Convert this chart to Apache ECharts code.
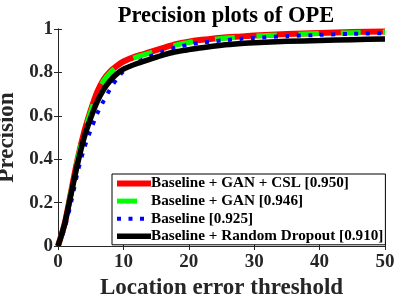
<!DOCTYPE html>
<html>
<head>
<meta charset="utf-8">
<script src="https://cdn.jsdelivr.net/npm/echarts@6/dist/echarts.min.js"></script>
<style>html,body{margin:0;padding:0;background:#fff;}#c{width:398px;height:301px;}</style>
</head>
<body>
<div id="c"></div>
<script>
var thresholds = [0,1,2,3,4,5,6,7,8,9,10,12,14,16,18,20,22,25,28,30,35,40,45,50];
var ganCsl   = [0,0.10,0.25,0.40,0.525,0.625,0.71,0.768,0.805,0.83,0.85,0.875,0.893,0.912,0.93,0.942,0.95,0.96,0.966,0.97,0.977,0.982,0.986,0.989];
var gan      = [0,0.10,0.25,0.40,0.52,0.62,0.705,0.763,0.80,0.826,0.846,0.871,0.889,0.908,0.926,0.938,0.946,0.956,0.963,0.967,0.974,0.979,0.983,0.986];
var baseline = [0,0.08,0.2,0.34,0.45,0.535,0.61,0.67,0.725,0.77,0.805,0.845,0.873,0.895,0.915,0.928,0.937,0.947,0.955,0.959,0.967,0.973,0.978,0.981];
var dropout  = [0,0.10,0.24,0.38,0.5,0.59,0.665,0.722,0.763,0.793,0.815,0.84,0.86,0.88,0.895,0.905,0.914,0.925,0.933,0.937,0.943,0.947,0.951,0.954];
var names = ['Baseline + GAN + CSL [0.950]','Baseline + GAN [0.946]','Baseline [0.925]','Baseline + Random Dropout [0.910]'];
var xTicks = [0,10,20,30,40,50];
var yTicks = [0,0.2,0.4,0.6,0.8,1];

function pairs(v){ return thresholds.map(function(t,i){ return [t, v[i]]; }); }
var font = "'Liberation Serif', 'Times New Roman', serif";
var axisCol = '#262626';

var chart = echarts.init(document.getElementById('c'));
chart.setOption({
  animation: false,
  backgroundColor: '#fff',
  title: {
    text: 'Precision plots of OPE', left: 221, textAlign: 'center', top: 0,
    textStyle: {fontFamily: font, fontWeight: 'bold', fontSize: 22.5, color: '#000'}
  },
  grid: {left: 58, right: 13, top: 29, bottom: 55, outerBoundsMode: 'none', containLabel: false},
  legend: {
    orient: 'vertical', left: 112, top: 174,
    data: names,
    itemWidth: 34, itemHeight: 15, itemGap: 2.6,
    padding: [2, 2, 1, 2],
    backgroundColor: '#fff', borderColor: '#000', borderWidth: 1,
    lineStyle: {width: 'inherit'},
    itemStyle: {opacity: 0},
    textStyle: {fontFamily: font, fontWeight: 'bold', fontSize: 15.2, color: '#000', padding: [0,0,0,-5]}
  },
  xAxis: [{
    type: 'value', min: xTicks[0], max: xTicks[xTicks.length-1], interval: 10,
    name: 'Location error threshold', nameLocation: 'middle', nameGap: 26,
    nameTextStyle: {fontFamily: font, fontWeight: 'bold', fontSize: 23, color: '#262626'},
    axisLine: {show: true, lineStyle: {color: axisCol, width: 1}},
    axisTick: {show: true, inside: true, length: 4, lineStyle: {color: axisCol}},
    axisLabel: {fontFamily: font, fontWeight: 'bold', fontSize: 19, color: '#262626', margin: 7},
    splitLine: {show: false}
  }, {
    type: 'value', position: 'top', min: 0, max: 50, interval: 10,
    axisLine: {show: true, lineStyle: {color: axisCol, width: 1}},
    axisTick: {show: true, inside: true, length: 4, lineStyle: {color: axisCol}},
    axisLabel: {show: false}, splitLine: {show: false}
  }],
  yAxis: [{
    type: 'value', min: yTicks[0], max: yTicks[yTicks.length-1], interval: 0.2,
    name: 'Precision', nameLocation: 'middle', nameGap: 35,
    nameTextStyle: {fontFamily: font, fontWeight: 'bold', fontSize: 23, color: '#262626'},
    axisLine: {show: true, lineStyle: {color: axisCol, width: 1}},
    axisTick: {show: true, inside: true, length: 4, lineStyle: {color: axisCol}},
    axisLabel: {fontFamily: font, fontWeight: 'bold', fontSize: 19, color: '#262626', margin: 5,
      formatter: function(v){ return String(Math.round(v*10)/10); }},
    splitLine: {show: false}
  }, {
    type: 'value', position: 'right', min: 0, max: 1, interval: 0.2,
    axisLine: {show: true, lineStyle: {color: axisCol, width: 1}},
    axisTick: {show: true, inside: true, length: 4, lineStyle: {color: axisCol}},
    axisLabel: {show: false}, splitLine: {show: false}
  }],
  series: [
    {name: names[0], type: 'line', smooth: 0.25, symbol: 'none', data: pairs(ganCsl),
     lineStyle: {color: '#ff0000', width: 6}, itemStyle: {color: '#ff0000'}},
    {name: names[1], type: 'line', smooth: 0.25, symbol: 'none', data: pairs(gan),
     lineStyle: {color: '#00ff00', width: 5, type: [20, 22]}, itemStyle: {color: '#00ff00'}},
    {name: names[2], type: 'line', smooth: 0.25, symbol: 'none', data: pairs(baseline),
     lineStyle: {color: '#0000ff', width: 4, type: [4, 7.5]}, itemStyle: {color: '#0000ff'}},
    {name: names[3], type: 'line', smooth: 0.25, symbol: 'none', data: pairs(dropout),
     lineStyle: {color: '#000000', width: 5.5}, itemStyle: {color: '#000000'}}
  ]
});
</script>
</body>
</html>
